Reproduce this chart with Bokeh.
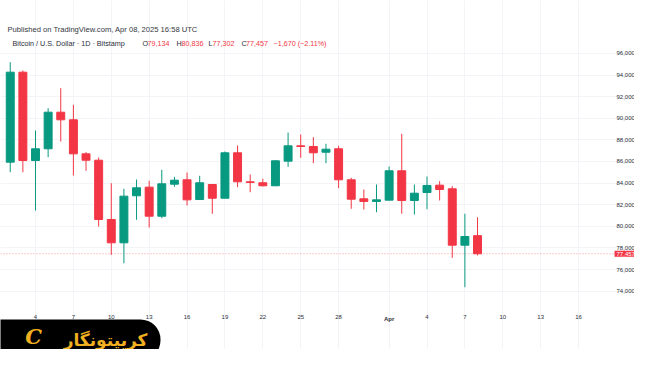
import pandas as pd
from bokeh.plotting import figure
from bokeh.models import ColumnDataSource, FixedTicker, NumeralTickFormatter, Label
from bokeh.embed import file_html
from bokeh.resources import INLINE

# ---- data ----
dates = ["2025-03-02", "2025-03-03", "2025-03-04", "2025-03-05", "2025-03-06", "2025-03-07",
         "2025-03-08", "2025-03-09", "2025-03-10", "2025-03-11", "2025-03-12", "2025-03-13",
         "2025-03-14", "2025-03-15", "2025-03-16", "2025-03-17", "2025-03-18", "2025-03-19",
         "2025-03-20", "2025-03-21", "2025-03-22", "2025-03-23", "2025-03-24", "2025-03-25",
         "2025-03-26", "2025-03-27", "2025-03-28", "2025-03-29", "2025-03-30", "2025-03-31",
         "2025-04-01", "2025-04-02", "2025-04-03", "2025-04-04", "2025-04-05", "2025-04-06",
         "2025-04-07", "2025-04-08"]
opens = [85935, 94270, 86090, 87175, 90565, 89860, 86710, 86120, 80630, 78470, 82825, 83625,
         80935, 83900, 84305, 82480, 83870, 82600, 86805, 84120, 84030, 83750, 86030, 87450,
         87390, 86860, 87175, 84305, 82545, 82300, 82420, 85140, 82390, 83130, 83810, 83470,
         78250, 79134]
highs = [95195, 94430, 88870, 90935, 92790, 91250, 86870, 86370, 83990, 83470, 84330, 84210,
         85230, 84580, 84980, 84675, 83900, 86925, 87480, 84800, 84400, 86100, 88685, 88500,
         88250, 87640, 87450, 84490, 83410, 83870, 85540, 88565, 83870, 84610, 84180, 83715,
         81160, 80836]
lows = [85010, 85010, 81460, 86400, 87850, 84700, 85140, 79980, 77360, 76580, 80600, 79890,
        80750, 83660, 81925, 82450, 81160, 82600, 83625, 83160, 83700, 83730, 85510, 86340,
        85840, 85840, 83530, 81620, 81555, 81300, 82420, 81160, 81090, 81585, 82390, 77080,
        74360, 77302]
closes = [94270, 86090, 87175, 90565, 89860, 86710, 86120, 80630, 78470, 82790, 83565, 80935,
          83935, 84270, 82450, 84030, 82600, 86805, 84120, 84055, 83750, 86065, 87450, 87390,
          86805, 87140, 84305, 82510, 82300, 82450, 85140, 82390, 83065, 83780, 83410, 78250,
          79055, 77457]

tick_dates = ["2025-03-04", "2025-03-07", "2025-03-10", "2025-03-13", "2025-03-16", "2025-03-19",
              "2025-03-22", "2025-03-25", "2025-03-28", "2025-04-01", "2025-04-04", "2025-04-07",
              "2025-04-10", "2025-04-13", "2025-04-16"]
tick_labels = ["4", "7", "10", "13", "16", "19", "22", "25", "28", "Apr", "4", "7", "10", "13", "16"]
price_ticks = [74000, 76000, 78000, 80000, 82000, 84000, 86000, 88000, 90000, 92000, 94000, 96000]

header1 = "Published on TradingView.com, Apr 08, 2025 16:58 UTC"
header2 = "Bitcoin / U.S. Dollar · 1D · Bitstamp"
ohlc_keys = ["O", "H", "L", "C"]
ohlc_vals = ["79,134", "80,836", "77,302", "77,457"]
change_text = "\u22121,670 (\u22122.11%)"
last_price = 77457
last_label = "77,457"
logo_text = "کریپتونگار"

GREEN = "#089981"
RED = "#f23645"
TXT = "#2a2e39"
GOLD = "#f0b020"

W, H = 634, 349
# view ranges (the frame covers the whole canvas; axes sit at fixed places inside it)
X0, X1 = 0.2284, 50.43
Y0, Y1 = 68593, 100907
PANE_BOTTOM = 72389      # price level at the bottom edge of the chart pane
PANE_RIGHT = 48.77       # time position of the right edge of the chart pane

base = pd.Timestamp("2025-03-01")
xs = [(pd.Timestamp(d) - base).days for d in dates]
tick_x = [(pd.Timestamp(d) - base).days for d in tick_dates]
colors = [GREEN if c >= o else RED for o, c in zip(opens, closes)]
src = ColumnDataSource(dict(
    x=xs, o=opens, h=highs, l=lows, c=closes,
    top=[max(o, c) for o, c in zip(opens, closes)],
    bot=[min(o, c) for o, c in zip(opens, closes)],
    col=colors))

p = figure(width=W, height=H, output_backend="svg", toolbar_location=None,
           x_range=(X0, X1), y_range=(Y0, Y1), y_axis_location="right",
           min_border=0)
p.outline_line_color = None
p.background_fill_color = "white"
p.border_fill_color = "white"

# grid (faint)
p.xgrid.grid_line_color = "#f3f4f7"
p.ygrid.grid_line_color = "#f3f4f7"

# last price dotted line
p.segment(x0=[X0], x1=[PANE_RIGHT], y0=[last_price], y1=[last_price], line_color=RED,
          line_alpha=0.5, line_dash="1 2", line_width=1)

p.segment(x0="x", x1="x", y0="l", y1="h", color="col", line_width=1, source=src)
p.vbar(x="x", width=0.63, top="top", bottom="bot", fill_color="col", line_color="col",
       line_width=1, source=src)

# axes
p.xaxis.ticker = FixedTicker(ticks=tick_x)
p.xaxis.major_label_overrides = {t: (lab if lab != "Apr" else "") for t, lab in zip(tick_x, tick_labels)}
p.xaxis.fixed_location = PANE_BOTTOM
p.yaxis.ticker = FixedTicker(ticks=price_ticks)
p.yaxis.formatter = NumeralTickFormatter(format="0,0")
p.yaxis.fixed_location = PANE_RIGHT
for ax in (p.xaxis, p.yaxis):
    ax.axis_line_color = None
    ax.major_tick_line_color = None
    ax.minor_tick_line_color = None
    ax.major_tick_out = 0
    ax.major_tick_in = 0
    ax.major_label_text_font = "Liberation Sans"
    ax.major_label_text_font_size = "6px"
    ax.major_label_text_color = TXT
p.xaxis.major_label_standoff = 6
p.yaxis.major_label_standoff = 3

# bold month label on the time axis
apr_x = [t for t, lab in zip(tick_x, tick_labels) if lab == "Apr"][0]
p.add_layout(Label(x=apr_x, y=H - 318, x_units="data", y_units="screen", text="Apr",
                   text_font="Liberation Sans", text_font_style="bold", text_font_size="6px",
                   text_color=TXT, text_align="center", text_baseline="middle"))

# last price tag on the price scale
p.add_layout(Label(x=PANE_RIGHT, y=last_price, x_units="data", y_units="data", text=last_label,
                   text_font="Liberation Sans", text_font_size="6px", text_color="white",
                   text_baseline="middle", text_align="left", background_fill_color=RED,
                   x_offset=1, padding=dict(left=2, right=2, top=1, bottom=1)))

# header
p.add_layout(Label(x=7, y=H - 29, x_units="screen", y_units="screen", text=header1,
                   text_font="Liberation Sans", text_font_size="7.6px", text_color="#333740",
                   text_baseline="middle"))
p.add_layout(Label(x=12, y=H - 43, x_units="screen", y_units="screen", text=header2,
                   text_font="Liberation Sans", text_font_size="7.2px", text_color=TXT,
                   text_baseline="middle"))
key_x = [142, 176, 208, 241]
val_x = [147, 181, 212, 245.5]
for kx, vx, k, v in zip(key_x, val_x, ohlc_keys, ohlc_vals):
    p.add_layout(Label(x=kx, y=H - 43, x_units="screen", y_units="screen", text=k,
                       text_font="Liberation Sans", text_font_size="7.2px", text_color=TXT,
                       text_baseline="middle"))
    p.add_layout(Label(x=vx, y=H - 43, x_units="screen", y_units="screen", text=v,
                       text_font="Liberation Sans", text_font_size="7.2px", text_color=RED,
                       text_baseline="middle"))
p.add_layout(Label(x=273, y=H - 43, x_units="screen", y_units="screen", text=change_text,
                   text_font="Liberation Sans", text_font_size="7.2px", text_color=RED,
                   text_baseline="middle"))

# logo badge (box anchored by its right edge / vertical middle)
p.add_layout(Label(x=160, y=H - 339.5, x_units="screen", y_units="screen", text=logo_text,
                   text_font="DejaVu Sans", text_font_style="bold", text_font_size="17px",
                   text_color=GOLD, text_align="right", text_baseline="middle",
                   background_fill_color="black",
                   padding=dict(left=100, right=13, top=10, bottom=11),
                   border_radius=dict(top_left=0, top_right=20, bottom_right=20, bottom_left=0)))
p.add_layout(Label(x=33, y=H - 336, x_units="screen", y_units="screen", text="C",
                   text_font="DejaVu Serif", text_font_style="bold italic", text_font_size="21px",
                   text_color=GOLD, text_align="center", text_baseline="middle"))

open("out.html", "w").write(file_html(p, INLINE))
